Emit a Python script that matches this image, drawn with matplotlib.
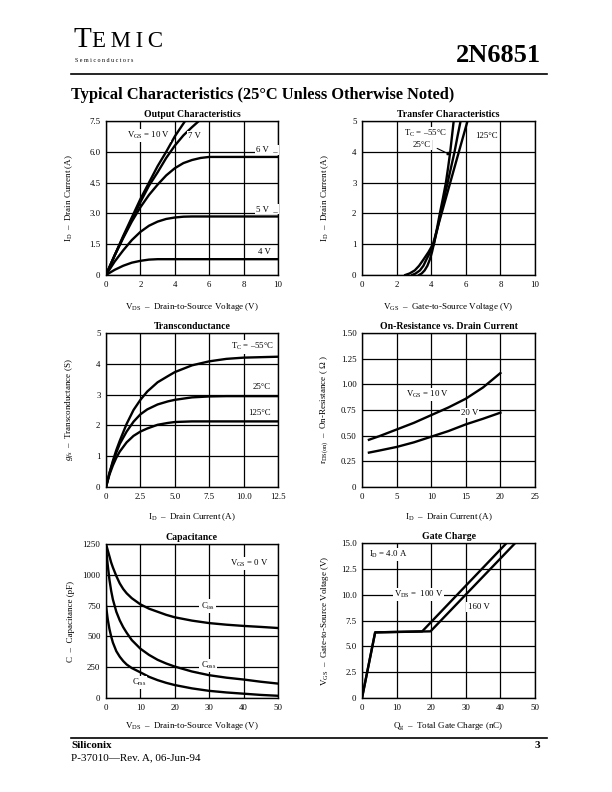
import matplotlib
matplotlib.use("Agg")
import matplotlib.pyplot as plt

plt.rcParams['font.family'] = ['Liberation Serif', 'DejaVu Serif']
plt.rcParams['mathtext.fontset'] = 'custom'
plt.rcParams['mathtext.rm'] = 'Liberation Serif'
plt.rcParams['mathtext.it'] = 'Liberation Serif:italic'
plt.rcParams['mathtext.bf'] = 'Liberation Serif:bold'

# ---------------- data ----------------
# Output characteristics (VDS, ID)
out_vds_10 = [0, 0.5, 1, 1.5, 2, 2.5, 3, 3.5, 4, 4.6]
out_id_10 = [0, 0.95, 1.9, 2.8, 3.7, 4.5, 5.3, 6.0, 6.75, 7.5]
out_vds_7 = [0, 0.5, 1, 1.5, 2, 2.5, 3, 3.5, 4, 4.5, 5, 5.4]
out_id_7 = [0, 0.95, 1.85, 2.7, 3.55, 4.35, 5.0, 5.7, 6.3, 6.8, 7.2, 7.5]
out_vds_6 = [0, 0.5, 1, 1.5, 2, 2.5, 3, 3.5, 4, 4.5, 5, 5.5, 6, 10]
out_id_6 = [0, 0.95, 1.8, 2.6, 3.3, 3.9, 4.4, 4.85, 5.2, 5.45, 5.6, 5.7, 5.75, 5.75]
out_vds_5 = [0, 0.5, 1, 1.5, 2, 2.5, 3, 3.5, 4, 4.5, 5, 10]
out_id_5 = [0, 0.65, 1.2, 1.7, 2.1, 2.4, 2.6, 2.73, 2.8, 2.84, 2.85, 2.85]
out_vds_4 = [0, 0.5, 1, 1.5, 2, 2.5, 3, 10]
out_id_4 = [0, 0.25, 0.45, 0.6, 0.69, 0.75, 0.77, 0.77]

# Transfer characteristics (VGS, ID)
tr_id = [0, 0.05, 0.15, 0.3, 0.5, 0.75, 1.0, 1.5, 2, 2.5, 3, 3.5, 4, 4.5, 5]
tr_vgs_m55 = [3.3, 3.45, 3.62, 3.78, 3.92, 4.05, 4.15, 4.33, 4.5, 4.68, 4.85, 4.98, 5.1, 5.2, 5.3]
tr_vgs_25 = [2.9, 3.1, 3.35, 3.55, 3.72, 3.95, 4.15, 4.36, 4.55, 4.75, 4.95, 5.15, 5.35, 5.52, 5.7]
tr_vgs_125 = [2.5, 2.75, 3.05, 3.3, 3.55, 3.85, 4.1, 4.35, 4.6, 4.85, 5.1, 5.35, 5.6, 5.85, 6.1]

# Transconductance (ID, gfs)
gfs_id = [0, 0.25, 0.5, 0.75, 1, 1.5, 2, 2.5, 3, 3.75, 4.5, 5, 6.25, 7.5, 8.75, 10, 12.5]
gfs_m55 = [0, 0.45, 0.85, 1.2, 1.5, 2.05, 2.5, 2.83, 3.1, 3.4, 3.6, 3.73, 3.95, 4.08, 4.16, 4.2, 4.23]
gfs_25 = [0, 0.45, 0.8, 1.12, 1.4, 1.8, 2.12, 2.36, 2.52, 2.68, 2.78, 2.83, 2.91, 2.94, 2.95, 2.95, 2.95]
gfs_125 = [0, 0.4, 0.7, 0.95, 1.15, 1.45, 1.66, 1.8, 1.9, 2.02, 2.08, 2.11, 2.13, 2.13, 2.13, 2.13, 2.13]

# On-resistance (ID, rDS(on))
ron_id = [1, 2.5, 5, 7.5, 10, 12.5, 15, 17.5, 20]
ron_10 = [0.46, 0.495, 0.56, 0.625, 0.70, 0.775, 0.86, 0.97, 1.11]
ron_20 = [0.335, 0.355, 0.39, 0.435, 0.49, 0.545, 0.61, 0.665, 0.724]

# Capacitance (VDS, pF)
cap_vds = [0, 0.5, 1, 1.5, 2, 3, 4, 5, 6, 7.5, 10, 12.5, 15, 17.5, 20, 25, 30, 35, 40, 45, 50]
cap_ciss = [1250, 1200, 1150, 1100, 1060, 990, 930, 885, 850, 810, 760, 725, 700, 675, 655, 628, 608,
            595, 585, 577, 568]
cap_coss = [1220, 1080, 960, 870, 800, 700, 630, 575, 530, 470, 400, 350, 310, 280, 255, 215, 185,
            165, 150, 132, 117]
cap_crss = [750, 640, 560, 500, 450, 380, 335, 300, 272, 243, 208, 172, 145, 123, 105, 78, 58,
            45, 35, 25, 18]

# Gate charge (Qg, VGS)
gc_q_100 = [0, 3.8, 17.4, 41.8]
gc_v_100 = [0, 6.35, 6.45, 15]
gc_q_160 = [0, 3.8, 19.8, 44.3]
gc_v_160 = [0, 6.35, 6.45, 15]

# ---------------- figure ----------------
W, H = 612, 792
fig = plt.figure(figsize=(W / 100, H / 100), dpi=100)


def make_ax(left, right, top, bottom):
    return fig.add_axes([left / W, 1 - bottom / H, (right - left) / W, (bottom - top) / H])


LW = 1.7
GW = 0.9
TS = 6.3
LS = 6.5
bbox = dict(facecolor='white', edgecolor='none', pad=0.8)


def style(ax, title, xlim, ylim, xticks, xtl, yticks, ytl, xlabel, ylabel, ylab_x=-0.18, xlab_y=-0.17):
    ax.set_xlim(*xlim)
    ax.set_ylim(*ylim)
    ax.set_xticks(xticks)
    ax.set_xticklabels(xtl, fontsize=TS)
    ax.set_yticks(yticks)
    ax.set_yticklabels(ytl, fontsize=TS)
    ax.tick_params(length=0, pad=4)
    ax.grid(True, color='black', linewidth=GW)
    ax.set_axisbelow(True)
    for s in ax.spines.values():
        s.set_linewidth(1.0)
    ax.set_title(title, fontsize=7, fontweight='bold', pad=3)
    ax.set_xlabel(xlabel, fontsize=LS)
    ax.set_ylabel(ylabel, fontsize=LS)
    ax.yaxis.set_label_coords(ylab_x, 0.5)
    ax.xaxis.set_label_coords(0.5, xlab_y)


L1, R1 = 106, 278
L2, R2 = 362, 535

# Output characteristics
ax = make_ax(L1, R1, 121, 275)
for x, y in [(out_vds_10, out_id_10), (out_vds_7, out_id_7), (out_vds_6, out_id_6),
             (out_vds_5, out_id_5), (out_vds_4, out_id_4)]:
    ax.plot(x, y, color='black', lw=LW, solid_joinstyle='round')
style(ax, 'Output Characteristics', (0, 10), (0, 7.5), [0, 2, 4, 6, 8, 10],
      ['0', '2', '4', '6', '8', '10'], [0, 1.5, 3.0, 4.5, 6.0, 7.5],
      ['0', '1.5', '3.0', '4.5', '6.0', '7.5'],
      r'V$_\mathrm{DS}$  –  Drain-to-Source Voltage (V)', r'I$_\mathrm{D}$  –  Drain Current (A)')
ax.text(1.2, 6.8, r'V$_\mathrm{GS}$ = 10 V', fontsize=TS, va='center', bbox=bbox)
ax.text(4.75, 6.75, '7 V', fontsize=TS, va='center', bbox=bbox)
ax.text(9.35, 6.1, '6 V  _', fontsize=TS, va='center', ha='center', bbox=bbox)
ax.text(9.35, 3.2, '5 V  _', fontsize=TS, va='center', ha='center', bbox=bbox)
ax.text(9.2, 1.1, '4 V', fontsize=TS, va='center', ha='center', bbox=bbox)

# Transfer characteristics
ax = make_ax(L2, R2, 121, 275)
for x in [tr_vgs_m55, tr_vgs_25, tr_vgs_125]:
    ax.plot(x, tr_id, color='black', lw=LW, solid_joinstyle='round')
style(ax, 'Transfer Characteristics', (0, 10), (0, 5), [0, 2, 4, 6, 8, 10],
      ['0', '2', '4', '6', '8', '10'], [0, 1, 2, 3, 4, 5], ['0', '1', '2', '3', '4', '5'],
      r'V$_\mathrm{GS}$  –  Gate-to-Source Voltage (V)', r'I$_\mathrm{D}$  –  Drain Current (A)')
ax.text(2.45, 4.6, r'T$_\mathrm{C}$ = –55°C', fontsize=TS, va='center', bbox=bbox)
ax.text(2.95, 4.22, '25°C', fontsize=TS, va='center', bbox=bbox)
ax.annotate('', xy=(5.3, 3.85), xytext=(4.2, 4.15),
            arrowprops=dict(arrowstyle='-|>', color='black', lw=0.8, mutation_scale=5))
ax.text(6.55, 4.5, '125°C', fontsize=TS, va='center', bbox=bbox)

# Transconductance
ax = make_ax(L1, R1, 333, 487)
for y in [gfs_m55, gfs_25, gfs_125]:
    ax.plot(gfs_id, y, color='black', lw=LW, solid_joinstyle='round')
style(ax, 'Transconductance', (0, 12.5), (0, 5), [0, 2.5, 5, 7.5, 10, 12.5],
      ['0', '2.5', '5.0', '7.5', '10.0', '12.5'], [0, 1, 2, 3, 4, 5],
      ['0', '1', '2', '3', '4', '5'],
      r'I$_\mathrm{D}$  –  Drain Current (A)', r'$g_{fs}$  –  Transconductance (S)', xlab_y=-0.16)
ax.text(12.2, 4.55, r'T$_\mathrm{C}$ = –55°C', fontsize=TS, va='center', ha='right', bbox=bbox)
ax.text(12.0, 3.25, '25°C', fontsize=TS, va='center', ha='right', bbox=bbox)
ax.text(12.0, 2.4, '125°C', fontsize=TS, va='center', ha='right', bbox=bbox)

# On-resistance
ax = make_ax(L2, R2, 333, 487)
ax.plot(ron_id, ron_10, color='black', lw=LW, solid_joinstyle='round')
ax.plot(ron_id, ron_20, color='black', lw=LW, solid_joinstyle='round')
style(ax, 'On-Resistance vs. Drain Current', (0, 25), (0, 1.5), [0, 5, 10, 15, 20, 25],
      ['0', '5', '10', '15', '20', '25'], [0, 0.25, 0.5, 0.75, 1.0, 1.25, 1.5],
      ['0', '0.25', '0.50', '0.75', '1.00', '1.25', '1.50'],
      r'I$_\mathrm{D}$  –  Drain Current (A)', r'r$_\mathrm{DS(on)}$  –  On-Resistance ( Ω )', xlab_y=-0.16)
ax.text(6.3, 0.9, r'V$_\mathrm{GS}$ = 10 V', fontsize=TS, va='center', bbox=bbox)
ax.text(14.3, 0.72, '20 V', fontsize=TS, va='center', bbox=bbox)

# Capacitance
ax = make_ax(L1, R1, 544, 698)
for y in [cap_ciss, cap_coss, cap_crss]:
    ax.plot(cap_vds, y, color='black', lw=LW, solid_joinstyle='round')
style(ax, 'Capacitance', (0, 50), (0, 1250), [0, 10, 20, 30, 40, 50],
      ['0', '10', '20', '30', '40', '50'], [0, 250, 500, 750, 1000, 1250],
      ['0', '250', '500', '750', '1000', '1250'],
      r'V$_\mathrm{DS}$  –  Drain-to-Source Voltage (V)', r'C  –  Capacitance (pF)', xlab_y=-0.14)
ax.text(36, 1090, r'V$_\mathrm{GS}$ = 0 V', fontsize=TS, va='center', bbox=bbox)
ax.text(27.5, 745, r'C$_\mathrm{iss}$', fontsize=TS, va='center', bbox=bbox)
ax.text(27.5, 265, r'C$_\mathrm{oss}$', fontsize=TS, va='center', bbox=bbox)
ax.text(7.5, 125, r'C$_\mathrm{rss}$', fontsize=TS, va='center', bbox=bbox)

# Gate charge
ax = make_ax(L2, R2, 543, 698)
ax.plot(gc_q_100, gc_v_100, color='black', lw=LW)
ax.plot(gc_q_160, gc_v_160, color='black', lw=LW)
style(ax, 'Gate Charge', (0, 50), (0, 15), [0, 10, 20, 30, 40, 50],
      ['0', '10', '20', '30', '40', '50'], [0, 2.5, 5, 7.5, 10, 12.5, 15],
      ['0', '2.5', '5.0', '7.5', '10.0', '12.5', '15.0'],
      r'Q$_\mathrm{g}$  –  Total Gate Charge (nC)', r'V$_\mathrm{GS}$  –  Gate-to-Source Voltage (V)',
      xlab_y=-0.14)
ax.text(2.0, 13.9, r'I$_\mathrm{D}$ = 4.0 A', fontsize=TS, va='center', bbox=bbox)
ax.text(9.2, 10.0, r'V$_\mathrm{DS}$ =  100 V', fontsize=TS, va='center', bbox=bbox)
ax.text(30.5, 8.8, '160 V', fontsize=TS, va='center', bbox=bbox)

# ---------------- page header / footer ----------------
fig.text(74 / W, 1 - 47 / H, 'T', fontsize=21, va='baseline', ha='left')
fig.text(92 / W, 1 - 47 / H, 'E\u2009M\u2009I\u2009C', fontsize=16.5, va='baseline', ha='left')
fig.text(75 / W, 1 - 62 / H, 'S e m i c o n d u c t o r s', fontsize=4.3, va='baseline', ha='left')
fig.text(541 / W, 1 - 62 / H, '2N6851', fontsize=19, fontweight='bold', va='baseline', ha='right')
fig.add_artist(plt.Line2D([71 / W, 547 / W], [1 - 74 / H, 1 - 74 / H], color='black', lw=1.2))
fig.text(71 / W, 1 - 99 / H, 'Typical Characteristics (25°C Unless Otherwise Noted)',
         fontsize=11.8, fontweight='bold', va='baseline', ha='left')

fig.add_artist(plt.Line2D([71 / W, 547 / W], [1 - 738 / H, 1 - 738 / H], color='black', lw=1.2))
fig.text(71 / W, 1 - 748 / H, 'Siliconix', fontsize=8, fontweight='bold', va='baseline', ha='left')
fig.text(540 / W, 1 - 748 / H, '3', fontsize=8, fontweight='bold', va='baseline', ha='right')
fig.text(71 / W, 1 - 760 / H, 'P-37010—Rev. A, 06-Jun-94', fontsize=8, va='baseline', ha='left')

fig.savefig('out.png', dpi=100, facecolor='white')
